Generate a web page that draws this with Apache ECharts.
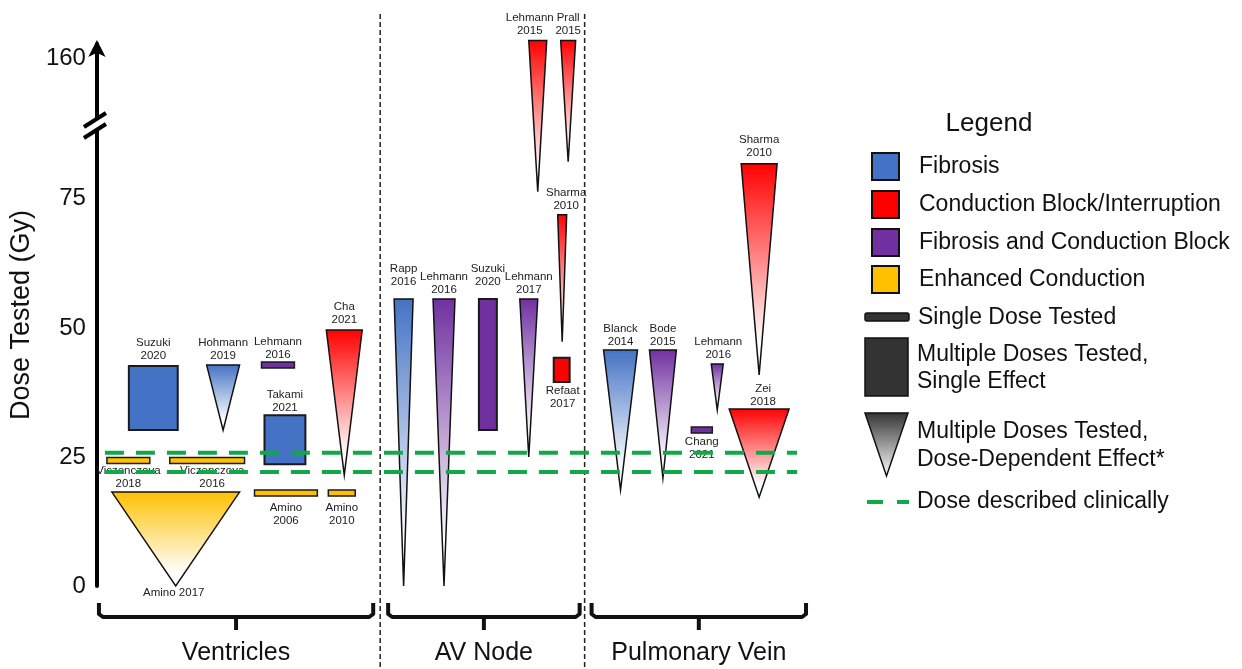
<!DOCTYPE html>
<html>
<head>
<meta charset="utf-8">
<script src="https://cdn.jsdelivr.net/npm/echarts@6/dist/echarts.min.js"></script>
<style>
  html, body { margin: 0; background: #fff; }
  #chart { width: 1242px; height: 669px; }
</style>
</head>
<body>
<div id="chart"></div>
<script>
// one entry per study, left to right
const studyLabels = [
    'Viczenczova\n2018', 'Viczenczova\n2016', 'Amino 2017', 'Suzuki\n2020', 'Hohmann\n2019',
    'Lehmann\n2016', 'Takami\n2021', 'Amino\n2006', 'Amino\n2010', 'Cha\n2021',
    'Rapp\n2016', 'Lehmann\n2016', 'Suzuki\n2020', 'Lehmann\n2017', 'Refaat\n2017',
    'Sharma\n2010', 'Lehmann\n2015', 'Prall\n2015',
    'Blanck\n2014', 'Bode\n2015', 'Lehmann\n2016', 'Chang\n2021', 'Sharma\n2010', 'Zei\n2018'
];
const effects = [
    'enh', 'enh', 'enh', 'fib', 'fib', 'both', 'fib', 'enh', 'enh', 'block',
    'fib', 'both', 'both', 'both', 'block', 'block', 'block', 'block',
    'fib', 'both', 'both', 'both', 'block', 'block'
];
const designs = [
    'single', 'single', 'dose', 'range', 'dose', 'single', 'range', 'single', 'single', 'dose',
    'dose', 'dose', 'range', 'dose', 'range', 'dose', 'dose', 'dose',
    'dose', 'dose', 'dose', 'single', 'dose', 'dose'
];
const doseLow = [
    24.3, 24.3, 0, 30.2, 30.2, 42.8, 23.6, 18, 18, 21.5,
    0, 0, 30.2, 25, 39.5, 47.3, 76.4, 82.2,
    18.6, 20.9, 34.1, 30.2, 40.9, 17.2
];
const doseHigh = [
    24.3, 24.3, 18.2, 42.6, 42.8, 42.8, 33.1, 18, 18, 49.6,
    55.6, 55.6, 55.6, 55.6, 44.2, 71.9, 175, 175,
    45.7, 45.7, 43.0, 30.2, 81.8, 34.3
];
// horizontal slot each study occupies (arbitrary units along the x axis)
const slotStart = [
    1.0, 7.3, 1.5, 3.2, 11.0, 16.5, 16.8, 15.8, 23.2, 23.0,
    29.8, 33.7, 38.3, 42.4, 45.8, 46.2, 43.3, 46.5,
    50.8, 55.4, 61.6, 59.6, 64.6, 63.4
];
const slotEnd = [
    5.3, 14.8, 14.3, 8.1, 14.3, 19.8, 20.9, 22.1, 25.9, 26.6,
    31.7, 35.9, 40.1, 44.2, 47.4, 47.1, 45.1, 48.0,
    54.2, 58.1, 62.8, 61.7, 68.2, 69.4
];

const regionNames = ['Ventricles', 'AV Node', 'Pulmonary Vein'];
const regionStart = [0.2, 29.2, 49.6];
const regionEnd = [27.7, 48.4, 71.1];
const regionDividers = [28.4, 48.9];

const clinicalDoses = [25.8, 22.1];
const tickValues = [0, 25, 50, 75, 160];

// label placement (style only)
const labelSide = [
    'below', 'below', 'below', 'above', 'above', 'above', 'above', 'below', 'below', 'above',
    'above', 'above', 'above', 'above', 'below', 'above', 'above', 'above',
    'above', 'above', 'above', 'below', 'above', 'above'
];
const labelGap = [
    1, 1, 0, 4, 3, 1, 1, 5, 5, 4,
    11, 3, 11, 3, 2, 3, 3, 3,
    2, 2, 3, 2, 4, 1
];
const labelShift = [
    0, 5, -2, 0, 0, 0, 0, 0, 0, 0,
    0, 0, 0, 0, 1, 4, -8, 0,
    0, 0, 1, 0, 0, 4
];

const effectColors = {
    fib: '#4472C4',
    block: '#FF0000',
    both: '#7030A0',
    enh: '#FFC000'
};
const FONT = '"Liberation Sans", Arial, sans-serif';

// broken axis: everything above 85 Gy is squeezed
const BREAK_AT = 85;
const BREAK_SCALE = 0.23;
function toDisp(v) {
    return v <= BREAK_AT ? v : BREAK_AT + (v - BREAK_AT) * BREAK_SCALE;
}
const breakMarkDisp = 89.3;

function renderStudy(params, api) {
    var i = api.value(4);
    var xa = api.coord([api.value(0), 0])[0];
    var xb = api.coord([api.value(1), 0])[0];
    var yLo = api.coord([0, api.value(2)])[1];
    var yHi = api.coord([0, api.value(3)])[1];
    var col = effectColors[effects[i]];
    var xc = (xa + xb) / 2;
    var top, bottom, mark;

    if (designs[i] === 'single') {
        top = yHi - 3;
        bottom = yHi + 3;
        mark = {
            type: 'rect',
            shape: { x: xa, y: top, width: xb - xa, height: 6 },
            style: { fill: col, stroke: '#1a1a1a', lineWidth: 1.5 }
        };
    } else if (designs[i] === 'range') {
        top = yHi;
        bottom = yLo;
        mark = {
            type: 'rect',
            shape: { x: xa, y: yHi, width: xb - xa, height: yLo - yHi },
            style: { fill: col, stroke: '#1a1a1a', lineWidth: 2 }
        };
    } else {
        top = yHi;
        bottom = yLo;
        mark = {
            type: 'polygon',
            shape: { points: [[xa, yHi], [xb, yHi], [xc, yLo]] },
            style: {
                fill: new echarts.graphic.LinearGradient(0, 0, 0, 1, [
                    { offset: 0, color: col },
                    { offset: 0.85, color: '#ffffff' },
                    { offset: 1, color: '#ffffff' }
                ]),
                stroke: '#111',
                lineWidth: 1.5,
                lineJoin: 'miter'
            }
        };
    }

    var above = labelSide[i] === 'above';
    var label = {
        type: 'text',
        style: {
            text: studyLabels[i],
            x: xc + labelShift[i],
            y: above ? top - labelGap[i] : bottom + labelGap[i],
            align: 'center',
            verticalAlign: above ? 'bottom' : 'top',
            fontSize: 11.5,
            fontFamily: FONT,
            lineHeight: 13,
            fill: '#222'
        }
    };
    return { type: 'group', children: [mark, label] };
}

function renderDivider(params, api) {
    var x = api.coord([api.value(0), 0])[0];
    var cs = params.coordSys;
    return {
        type: 'line',
        shape: { x1: x, y1: cs.y - 30, x2: x, y2: cs.y + cs.height + 90 },
        style: { stroke: '#222', lineWidth: 1.5, lineDash: [5, 3] }
    };
}

function renderBracket(params, api) {
    var x0 = api.coord([api.value(0), 0])[0];
    var x1 = api.coord([api.value(1), 0])[0];
    var base = api.coord([0, 0])[1];
    var xc = (x0 + x1) / 2;
    var yT = base + 17, yH = base + 31;
    return {
        type: 'group',
        children: [
            {
                type: 'polyline',
                shape: { points: [[x0, yT], [x0, yH - 3], [x0 + 4, yH], [x1 - 4, yH], [x1, yH - 3], [x1, yT]] },
                style: { stroke: '#111', lineWidth: 4, fill: null, lineJoin: 'round' }
            },
            {
                type: 'line',
                shape: { x1: xc, y1: yH, x2: xc, y2: yH + 13 },
                style: { stroke: '#111', lineWidth: 4 }
            },
            {
                type: 'text',
                style: {
                    text: regionNames[params.dataIndex],
                    x: xc, y: base + 67,
                    align: 'center', verticalAlign: 'middle',
                    fontSize: 25, fontFamily: FONT, fill: '#111'
                }
            }
        ]
    };
}

function renderBreak(params, api) {
    var c = api.coord([0, api.value(0)]);
    var cx = c[0], cy = c[1];
    return {
        type: 'group',
        children: [
            { type: 'rect', shape: { x: cx - 4, y: cy - 7, width: 8, height: 12 }, style: { fill: '#fff' } },
            { type: 'line', shape: { x1: cx - 13, y1: cy + 13, x2: cx + 9, y2: cy - 1 }, style: { stroke: '#000', lineWidth: 4 } },
            { type: 'line', shape: { x1: cx - 13, y1: cy + 2, x2: cx + 9, y2: cy - 12 }, style: { stroke: '#000', lineWidth: 4 } }
        ]
    };
}

var studyData = studyLabels.map(function (s, i) {
    return [slotStart[i], slotEnd[i], toDisp(doseLow[i]), toDisp(doseHigh[i]), i];
});

var clinicalSeries = clinicalDoses.map(function (d) {
    return {
        type: 'line',
        data: [[0.8, d], [70.2, d]],
        symbol: 'none',
        silent: true,
        z: 5,
        lineStyle: { color: '#12A84A', width: 4, type: [19, 12] }
    };
});

// legend drawn by hand, the built-in one cannot mix these icons
function legendGraphics() {
    var items = [];
    var colorRows = [['fib', 'Fibrosis', 153], ['block', 'Conduction Block/Interruption', 191],
        ['both', 'Fibrosis and Conduction Block', 229], ['enh', 'Enhanced Conduction', 266]];
    var txt = function (text, x, y, size, align, lh) {
        return {
            type: 'text', x: x, y: y,
            style: {
                text: text, x: 0, y: 0, align: align || 'left', verticalAlign: 'middle',
                fontSize: size, fontFamily: FONT, fill: '#111', lineHeight: lh || size * 1.2
            }
        };
    };
    items.push(txt('Legend', 989, 124, 26, 'center'));
    colorRows.forEach(function (r) {
        items.push({
            type: 'rect', x: 872, y: r[2],
            shape: { width: 27, height: 27 },
            style: { fill: effectColors[r[0]], stroke: '#111', lineWidth: 2 }
        });
        items.push(txt(r[1], 919, r[2] + 14, 23));
    });
    items.push({
        type: 'rect', x: 865, y: 313,
        shape: { width: 44, height: 8, r: 2 },
        style: { fill: '#333', stroke: '#111', lineWidth: 1.5 }
    });
    items.push(txt('Single Dose Tested', 918, 318, 23));
    items.push({
        type: 'rect', x: 865, y: 338,
        shape: { width: 43, height: 58 },
        style: { fill: '#333', stroke: '#111', lineWidth: 1.5 }
    });
    items.push(txt('Multiple Doses Tested,\nSingle Effect', 917, 368, 23, 'left', 27));
    items.push({
        type: 'polygon',
        shape: { points: [[865, 413], [908, 413], [886.5, 476]] },
        style: {
            fill: new echarts.graphic.LinearGradient(0, 0, 0, 1, [
                { offset: 0, color: '#333' }, { offset: 1, color: '#fff' }
            ]),
            stroke: '#111', lineWidth: 1.5
        }
    });
    items.push(txt('Multiple Doses Tested,\nDose-Dependent Effect*', 917, 446, 23, 'left', 28));
    items.push({
        type: 'line',
        shape: { x1: 867, y1: 502, x2: 909, y2: 502 },
        style: { stroke: '#12A84A', lineWidth: 4, lineDash: [16, 14] }
    });
    items.push(txt('Dose described clinically', 917, 502, 23));
    return items;
}

var chartDom = document.getElementById('chart');
var myChart = echarts.init(chartDom);
var option;

option = {
    animation: false,
    backgroundColor: '#fff',
    grid: { left: 95, top: 44, width: 720, height: 542 },
    xAxis: { type: 'value', min: 0, max: 72, show: false },
    yAxis: {
        type: 'value',
        min: 0,
        max: 105,
        splitLine: { show: false },
        axisTick: { show: false },
        axisLine: {
            show: true,
            lineStyle: { color: '#000', width: 4 },
            symbol: ['none', 'arrow'],
            symbolSize: [13, 17],
            symbolOffset: [0, 4]
        },
        axisLabel: {
            customValues: tickValues.map(toDisp),
            formatter: function (v) {
                return v > 90 ? '160' : String(Math.round(v));
            },
            fontSize: 24,
            fontFamily: FONT,
            color: '#111',
            margin: 11
        },
        name: 'Dose Tested (Gy)',
        nameLocation: 'middle',
        nameGap: 60,
        nameTextStyle: { fontSize: 27, fontFamily: FONT, color: '#111' }
    },
    graphic: legendGraphics(),
    series: [
        {
            type: 'custom',
            name: 'dividers',
            renderItem: renderDivider,
            data: regionDividers.map(function (d) { return [d]; }),
            clip: false,
            silent: true,
            z: 1
        },
        {
            type: 'custom',
            name: 'studies',
            renderItem: renderStudy,
            data: studyData,
            clip: false,
            z: 3
        }
    ].concat(clinicalSeries, [
        {
            type: 'custom',
            name: 'regions',
            renderItem: renderBracket,
            data: regionNames.map(function (n, i) { return [regionStart[i], regionEnd[i]]; }),
            clip: false,
            silent: true
        },
        {
            type: 'custom',
            name: 'axis break',
            renderItem: renderBreak,
            data: [[breakMarkDisp]],
            clip: false,
            silent: true,
            z: 6
        }
    ])
};
option && myChart.setOption(option);
</script>
</body>
</html>
